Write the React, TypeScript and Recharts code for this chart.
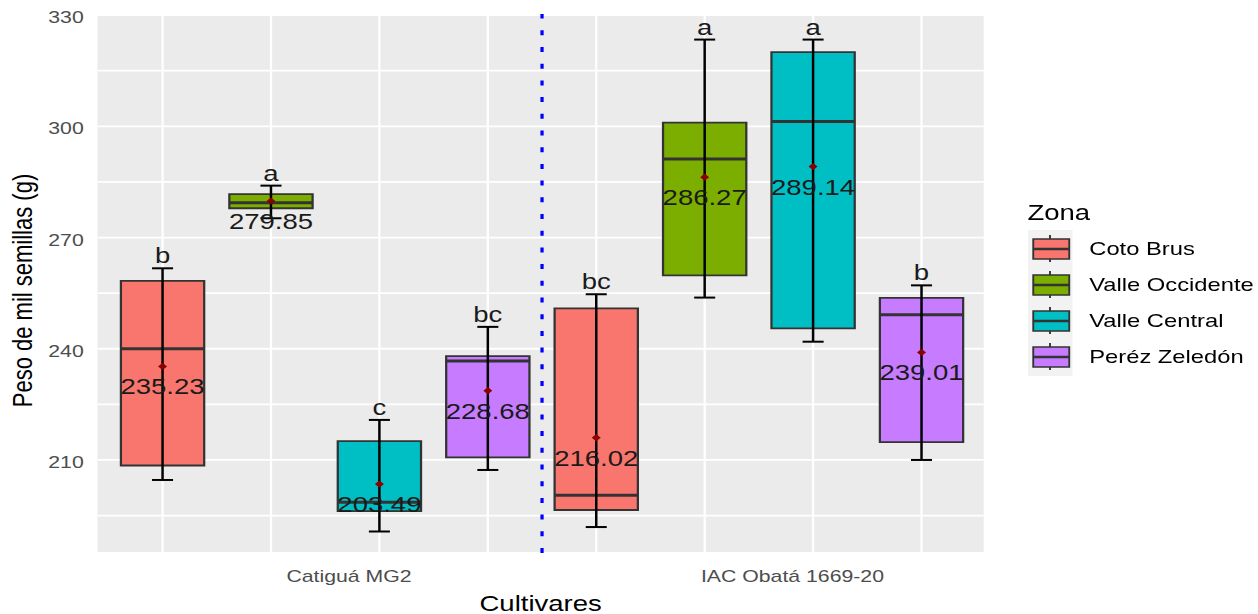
import React from 'react';
import {
  ComposedChart,
  XAxis,
  YAxis,
  CartesianGrid,
  ReferenceArea,
  ReferenceLine,
  Scatter,
} from 'recharts';

// ---- data ----
const cultivares = ['Catiguá MG2', 'IAC Obatá 1669-20'];
const cultivarTickPos = [2.72, 6.81];
const zonas = ['Coto Brus', 'Valle Occidente', 'Valle Central', 'Peréz Zeledón'];
const colores = ['#F8766D', '#7CAE00', '#00BFC4', '#C77CFF'];

// one entry per box (Catiguá: 4 zonas, then IAC: 4 zonas)
const posiciones = [1, 2, 3, 4, 5, 6, 7, 8];
const zonaDeCaja = [0, 1, 2, 3, 0, 1, 2, 3];
const q1 = [208.5, 277.9, 196.2, 210.7, 196.5, 259.8, 245.5, 214.8];
const mediana = [240.0, 279.4, 198.6, 236.7, 200.5, 291.2, 301.3, 249.2];
const q3 = [258.3, 281.7, 215.1, 238.0, 250.9, 301.0, 320.0, 253.7];
const bigoteInf = [204.6, 275.2, 190.7, 207.3, 191.9, 253.8, 241.9, 210.0];
const bigoteSup = [261.7, 284.0, 220.8, 245.9, 254.7, 323.4, 323.4, 257.1];
const medias = [235.23, 279.85, 203.49, 228.68, 216.02, 286.27, 289.14, 239.01];
const letras = ['b', 'a', 'c', 'bc', 'bc', 'a', 'a', 'b'];

const yTicks = [195, 210, 225, 240, 255, 270, 285, 300, 315, 330];
const yDomain = [184.9, 330.3];
const xDomain = [0.4, 8.574];
const separador = 4.5;

// ---- style ----
const FONT = '"Liberation Sans", Arial, sans-serif';
const STRETCH = 1.25;
const W = 1006;
const H = 614;
const BOX_HALF = 0.384;
const CAP_HALF = 0.097;

const meanData = posiciones.map((p, i) => ({ x: p, y: medias[i], label: medias[i].toFixed(2) }));
const letterData = posiciones.map((p, i) => ({ x: p, y: bigoteSup[i], label: letras[i] }));

const MeanShape = (props: any) => {
  const { cx, cy, payload } = props;
  if (cx == null || cy == null) return null;
  return (
    <g>
      <polygon
        points={`${cx - 3.6},${cy} ${cx},${cy - 3.6} ${cx + 3.6},${cy} ${cx},${cy + 3.6}`}
        fill="#8B0000"
      />
      <text
        x={cx}
        y={cy + 28}
        textAnchor="middle"
        fontSize={22}
        fontFamily={FONT}
        fill="#1a1a1a"
      >
        {payload.label}
      </text>
    </g>
  );
};

const LetterShape = (props: any) => {
  const { cx, cy, payload } = props;
  if (cx == null || cy == null) return null;
  return (
    <text x={cx} y={cy - 5} textAnchor="middle" fontSize={22} fontFamily={FONT} fill="#1a1a1a">
      {payload.label}
    </text>
  );
};

const YTitle = (props: any) => {
  const vb = props.viewBox || {};
  const x = (vb.x || 0) + 17.6;
  const y = (vb.y || 0) + (vb.height || 0) / 2 + 7;
  return (
    <text
      x={x}
      y={y}
      transform={`rotate(-90, ${x}, ${y})`}
      textAnchor="middle"
      dominantBaseline="central"
      fontSize={22}
      fontFamily={FONT}
      fill="#000"
    >
      Peso de mil semillas (g)
    </text>
  );
};

const XTitle = (props: any) => {
  const vb = props.viewBox || {};
  const x = (vb.x || 0) + (vb.width || 0) / 2;
  const y = (vb.y || 0) + 50;
  return (
    <text x={x} y={y} textAnchor="middle" dominantBaseline="central" fontSize={22} fontFamily={FONT} fill="#000">
      Cultivares
    </text>
  );
};

const LegendBox = () => (
  <svg
    width={190}
    height={200}
    style={{ position: 'absolute', left: 821.6, top: 190, fontFamily: FONT }}
  >
    <text x={0} y={30} fontSize={22} fill="#000">
      Zona
    </text>
    <rect x={0} y={40} width={36} height={146} fill="#F2F2F2" />
    {zonas.map((z, i) => {
      const cy = 59 + i * 36;
      return (
        <g key={z}>
          <line x1={18} x2={18} y1={cy - 14} y2={cy + 13} stroke="#333" strokeWidth={1.5} />
          <rect x={4.6} y={cy - 10} width={28.8} height={20} fill={colores[i]} stroke="#333" strokeWidth={1.5} />
          <line x1={4.6} x2={33.4} y1={cy} y2={cy} stroke="#333" strokeWidth={2.5} />
          <text x={49.4} y={cy} dominantBaseline="central" fontSize={19} fill="#000">
            {z}
          </text>
        </g>
      );
    })}
  </svg>
);

export default function App() {
  return (
    <div
      style={{
        position: 'absolute',
        left: 0,
        top: 0,
        width: W,
        height: H,
        transform: `scaleX(${STRETCH})`,
        transformOrigin: '0 0',
        fontFamily: FONT,
        background: '#fff',
      }}
    >
      <ComposedChart width={W} height={H} margin={{ top: 14, right: 219, bottom: 0, left: 0 }}>
        <CartesianGrid
          fill="#EBEBEB"
          stroke="#FFFFFF"
          strokeWidth={1.8}
          xAxisId={0}
          verticalValues={posiciones}
        />
        <XAxis
          xAxisId={0}
          type="number"
          dataKey="x"
          domain={xDomain}
          ticks={posiciones}
          interval={0}
          allowDataOverflow
          height={0}
          tickFormatter={() => ''}
          axisLine={false}
          tickLine={false}
        />
        <XAxis
          xAxisId="lab"
          type="number"
          dataKey="x"
          domain={xDomain}
          ticks={cultivarTickPos}
          interval={0}
          allowDataOverflow
          height={61}
          axisLine={false}
          tickLine={false}
          tickSize={0}
          tickMargin={17}
          tickFormatter={(_v: any, i: number) => cultivares[i]}
          tick={{ fill: '#4D4D4D', fontSize: 17, fontFamily: FONT }}
          label={{ content: XTitle }}
        />
        <YAxis
          type="number"
          dataKey="y"
          domain={yDomain}
          ticks={yTicks}
          allowDataOverflow
          width={78}
          axisLine={false}
          tickLine={false}
          tickSize={0}
          tickMargin={11}
          interval={0}
          tickFormatter={(v: number) => (v % 30 === 0 ? String(v) : '')}
          tick={{ fill: '#4D4D4D', fontSize: 17, fontFamily: FONT, dy: 2 }}
          label={{ content: YTitle }}
        />

        {posiciones.map((p, i) => (
          <ReferenceArea
            key={`box-${i}`}
            x1={p - BOX_HALF}
            x2={p + BOX_HALF}
            y1={q1[i]}
            y2={q3[i]}
            fill={colores[zonaDeCaja[i]]}
            fillOpacity={1}
            stroke="#333333"
            strokeWidth={1.8}
            ifOverflow="visible"
          />
        ))}
        {posiciones.map((p, i) => (
          <ReferenceLine
            key={`med-${i}`}
            segment={[
              { x: p - BOX_HALF, y: mediana[i] },
              { x: p + BOX_HALF, y: mediana[i] },
            ]}
            stroke="#333333"
            strokeWidth={3}
            ifOverflow="visible"
          />
        ))}
        <ReferenceLine
          x={separador}
          stroke="#0000FF"
          strokeWidth={2.6}
          strokeDasharray="5 11.7"
        />
        {posiciones.map((p, i) => (
          <ReferenceLine
            key={`wv-${i}`}
            segment={[
              { x: p, y: bigoteInf[i] },
              { x: p, y: bigoteSup[i] },
            ]}
            stroke="#000"
            strokeWidth={2}
            ifOverflow="visible"
          />
        ))}
        {posiciones.map((p, i) => (
          <ReferenceLine
            key={`wt-${i}`}
            segment={[
              { x: p - CAP_HALF, y: bigoteSup[i] },
              { x: p + CAP_HALF, y: bigoteSup[i] },
            ]}
            stroke="#000"
            strokeWidth={2}
            ifOverflow="visible"
          />
        ))}
        {posiciones.map((p, i) => (
          <ReferenceLine
            key={`wb-${i}`}
            segment={[
              { x: p - CAP_HALF, y: bigoteInf[i] },
              { x: p + CAP_HALF, y: bigoteInf[i] },
            ]}
            stroke="#000"
            strokeWidth={2}
            ifOverflow="visible"
          />
        ))}
        <Scatter data={meanData} dataKey="y" shape={MeanShape} isAnimationActive={false} />
        <Scatter data={letterData} dataKey="y" shape={LetterShape} isAnimationActive={false} />
      </ComposedChart>
      <LegendBox />
    </div>
  );
}
